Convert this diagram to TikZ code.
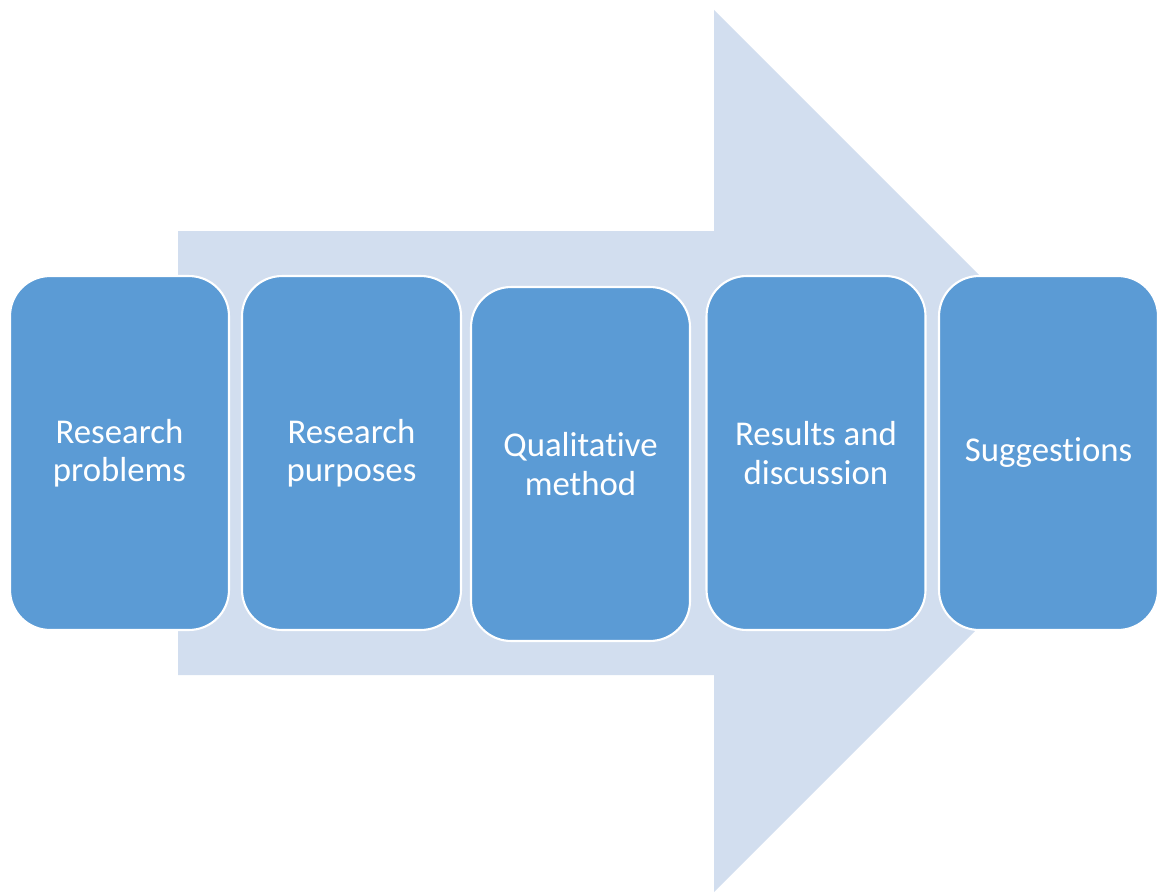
\documentclass[tikz,border=0pt]{standalone}
\usepackage{fontspec}
\setmainfont[Ligatures={NoCommon}]{Carlito}
\definecolor{arrowfill}{HTML}{D2DEEF}
\definecolor{boxfill}{HTML}{5B9BD5}
\tikzset{
  stepbox/.style={rectangle,rounded corners=0.8cm,fill=boxfill,draw=white,line width=1.2pt,
    minimum width=4.38cm,minimum height=7.08cm,text=white,align=center,
    font=\fontsize{19.8}{21.8}\selectfont}
}

\begin{document}
\begin{tikzpicture}[x=0.02cm,y=-0.02cm]
            \useasboundingbox (0,0) rectangle (1158,892);
            \clip (0,0) rectangle (1158,892);
            % draw the big arrow
            \fill[arrowfill] (178,231) -- (714,231) -- (714,10) -- (1155,451)
                -- (714,892) -- (714,675) -- (178,675) -- cycle;
            % the steps
            \foreach \n/\x/\y/\t in {a/119.5/453/{Research\\problems},b/351.5/453/{Research\\purposes},
                c/580.5/464/{Qualitative\\method},d/816/453/{Results and\\discussion},e/1048.5/453/{Suggestions}}
                \node[stepbox] (\n) at (\x,\y) {\t};
        \end{tikzpicture}
\end{document}
